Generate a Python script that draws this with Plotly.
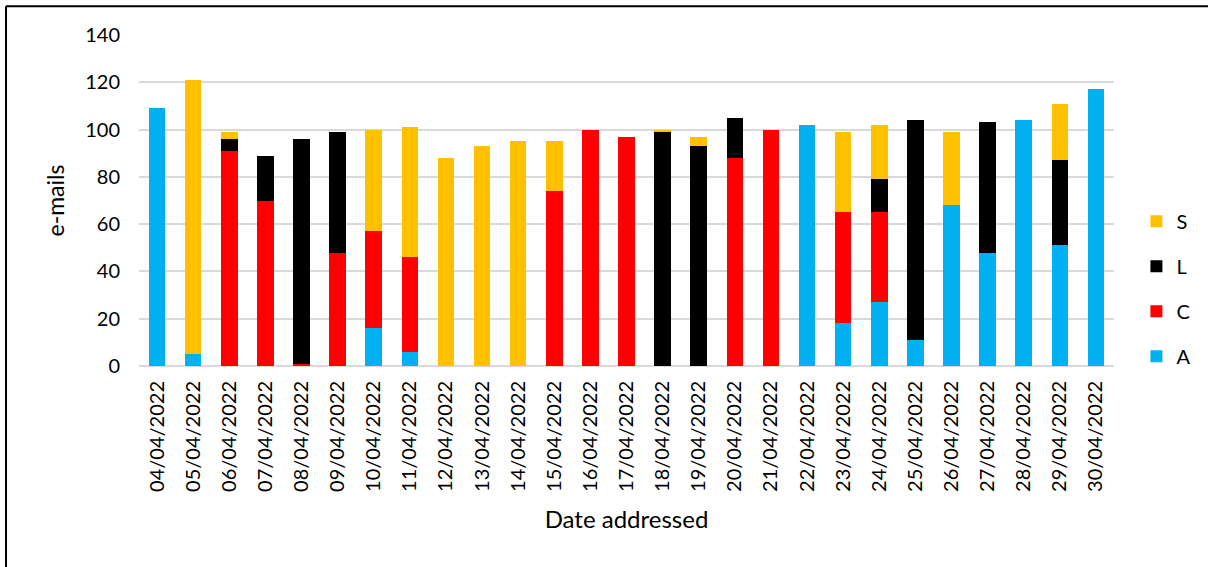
import plotly.graph_objects as go

# Daily e-mail counts, stacked by category
dates = [
    "04/04/2022", "05/04/2022", "06/04/2022", "07/04/2022", "08/04/2022",
    "09/04/2022", "10/04/2022", "11/04/2022", "12/04/2022", "13/04/2022",
    "14/04/2022", "15/04/2022", "16/04/2022", "17/04/2022", "18/04/2022",
    "19/04/2022", "20/04/2022", "21/04/2022", "22/04/2022", "23/04/2022",
    "24/04/2022", "25/04/2022", "26/04/2022", "27/04/2022", "28/04/2022",
    "29/04/2022", "30/04/2022",
]
A = [109, 5, 0, 0, 0, 0, 16, 6, 0, 0, 0, 0, 0, 0, 0, 0, 0, 0, 102, 18, 27, 11, 68, 48, 104, 51, 117]
C = [0, 0, 91, 70, 1, 48, 41, 40, 0, 0, 0, 74, 100, 97, 0, 0, 88, 100, 0, 47, 38, 0, 0, 0, 0, 0, 0]
L = [0, 0, 5, 19, 95, 51, 0, 0, 0, 0, 0, 0, 0, 0, 99, 93, 17, 0, 0, 0, 14, 93, 0, 55, 0, 36, 0]
S = [0, 116, 3, 0, 0, 0, 43, 55, 88, 93, 95, 21, 0, 0, 1, 4, 0, 0, 0, 34, 23, 0, 31, 0, 0, 24, 0]

y_ticks = [0, 20, 40, 60, 80, 100, 120, 140]

# stacking order bottom -> top; legend lists them top -> bottom
series = [
    ("A", A, "#00B0F0", 4),
    ("C", C, "#FF0000", 3),
    ("L", L, "#000000", 2),
    ("S", S, "#FFC000", 1),
]

FONT = "Lato"
TXT = "#000000"

fig = go.Figure()
for name, vals, color, rank in series:
    fig.add_trace(go.Bar(
        x=dates,
        y=vals,
        name=name,
        legendgroup=name,
        legendrank=rank,
        marker=dict(color=color, line=dict(width=0)),
    ))

fig.update_layout(
    width=1208,
    height=567,
    barmode="stack",
    bargap=0.54,
    plot_bgcolor="white",
    paper_bgcolor="white",
    margin=dict(l=139, r=94, t=35, b=201),
    font=dict(family=FONT, size=20, color=TXT),
    legend=dict(
        traceorder="grouped",
        tracegroupgap=16,
        x=1.023,
        xanchor="left",
        y=0.496,
        yanchor="top",
        font=dict(family=FONT, size=20, color=TXT),
        bgcolor="rgba(0,0,0,0)",
        itemclick=False,
    ),
    xaxis=dict(
        type="category",
        tickangle=-90,
        showgrid=False,
        showline=False,
        ticks="",
        ticklabelstandoff=10,
        tickfont=dict(family=FONT, size=20, color=TXT),
        title=dict(text="Date addressed", font=dict(family=FONT, size=24, color=TXT), standoff=20),
    ),
    yaxis=dict(
        range=[0, 140],
        tickvals=y_ticks,
        showgrid=True,
        gridcolor="#D9D9D9",
        gridwidth=1.5,
        zeroline=True,
        zerolinecolor="#D9D9D9",
        zerolinewidth=1.5,
        showline=False,
        ticks="",
        ticklabelstandoff=18,
        tickfont=dict(family=FONT, size=20, color=TXT),
        title=dict(text="e-mails", font=dict(family=FONT, size=23, color=TXT), standoff=14),
    ),
    shapes=[
        # chart frame: left and top edges
        dict(type="line", xref="paper", yref="paper", x0=-0.1364, x1=-0.1364, y0=-1.0, y1=1.087,
             line=dict(color="black", width=2)),
        dict(type="line", xref="paper", yref="paper", x0=-0.1364, x1=1.2, y0=1.087, y1=1.087,
             line=dict(color="black", width=2)),
    ],
)

fig.write_html("out.html")
